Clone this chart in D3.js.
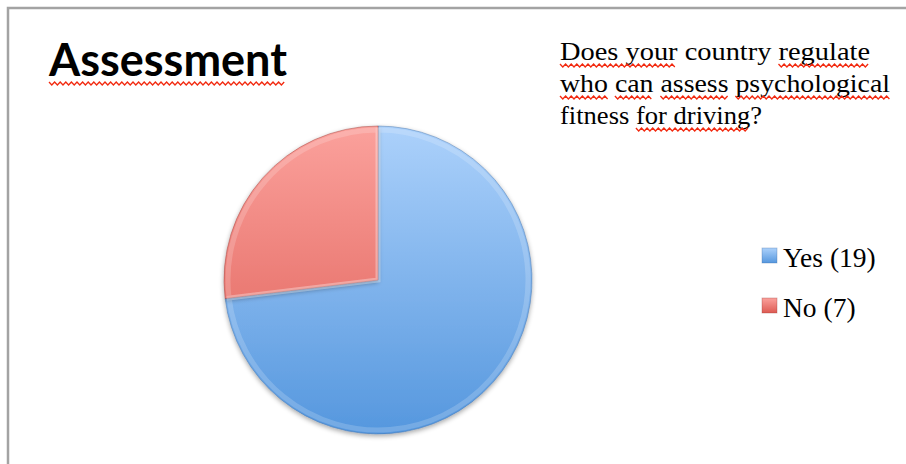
<!DOCTYPE html>
<html>
<head>
<meta charset="utf-8">
<script src="https://cdn.jsdelivr.net/npm/d3@7"></script>
<style>
  html, body { margin: 0; padding: 0; background: #fff; }
  svg { display: block; }
</style>
</head>
<body>
<svg id="chart"></svg>
<script>
const categories = ['Yes', 'No'];
const counts = [19, 7];
const legendLabels = ['Yes (19)', 'No (7)'];
const titleText = 'Assessment';
const questionLines = ['Does your country regulate', 'who can assess psychological', 'fitness for driving?'];

const width = 906, height = 464;
const svg = d3.select('#chart').attr('width', width).attr('height', height);
const defs = svg.append('defs');

const palette = {
  Yes: { top: '#acd1fb', bottom: '#5597de', edge: '#3f6fa8' },
  No:  { top: '#fba19c', bottom: '#dd5a52', edge: '#9a3c37' }
};

// frame
svg.append('path')
    .attr('d', `M8,${height} L8,8 L${width},8`)
    .attr('fill', 'none')
    .attr('stroke', '#a3a3a3')
    .attr('stroke-width', 2.5);

// pie
const cx = 378, cy = 280, r = 154;

const pie = d3.pie().sort(null).value(d => d.value);
const arc = d3.arc().innerRadius(0).outerRadius(r);
const data = categories.map((c, i) => ({ key: c, value: counts[i] }));

categories.forEach(c => {
  // gradient in the pie group's own coordinates
  const g = defs.append('linearGradient')
      .attr('id', 'grad-' + c)
      .attr('gradientUnits', 'userSpaceOnUse')
      .attr('x1', 0).attr('y1', -r)
      .attr('x2', 0).attr('y2', r);
  g.append('stop').attr('offset', 0).attr('stop-color', palette[c].top);
  g.append('stop').attr('offset', 1).attr('stop-color', palette[c].bottom);

  const lg = defs.append('linearGradient')
      .attr('id', 'lgrad-' + c)
      .attr('x1', 0).attr('y1', 0).attr('x2', 0).attr('y2', 1);
  lg.append('stop').attr('offset', 0).attr('stop-color', palette[c].top);
  lg.append('stop').attr('offset', 1).attr('stop-color', palette[c].bottom);
});

const shadow = defs.append('filter').attr('id', 'shadow')
    .attr('x', '-10%').attr('y', '-10%').attr('width', '120%').attr('height', '120%');
shadow.append('feGaussianBlur').attr('in', 'SourceAlpha').attr('stdDeviation', 2.5);
shadow.append('feOffset').attr('dx', 0).attr('dy', 1.5).attr('result', 'blur');
shadow.append('feComponentTransfer').append('feFuncA').attr('type', 'linear').attr('slope', 0.35);
const merge = shadow.append('feMerge');
merge.append('feMergeNode');
merge.append('feMergeNode').attr('in', 'SourceGraphic');

const pieG = svg.append('g').attr('transform', `translate(${cx},${cy})`);

pieG.selectAll('path.slice')
    .data(pie(data))
  .join('path')
    .attr('class', 'slice')
    .attr('d', arc)
    .attr('fill', d => `url(#grad-${d.data.key})`)
    .attr('filter', 'url(#shadow)')
    .attr('stroke', d => palette[d.data.key].edge)
    .attr('stroke-opacity', 0.45)
    .attr('stroke-width', 1);

// soft bevel highlight inside each slice
const innerArc = d3.arc().innerRadius(0).outerRadius(r - 4);
pieG.selectAll('path.bevel')
    .data(pie(data))
  .join('path')
    .attr('class', 'bevel')
    .attr('d', innerArc)
    .attr('fill', 'none')
    .attr('stroke', '#fff')
    .attr('stroke-opacity', 0.18)
    .attr('stroke-width', 5);

// title
const title = svg.append('text')
    .attr('x', 49).attr('y', 76)
    .attr('font-family', 'Lato, "Open Sans", sans-serif')
    .attr('font-weight', 700)
    .attr('font-size', 45)
    .attr('fill', '#000')
    .text(titleText);

// question
const qFont = '"Liberation Serif", "DejaVu Serif", serif';
const question = svg.append('g');
const qLines = question.selectAll('text')
    .data(questionLines)
  .join('text')
    .attr('x', 560)
    .attr('y', (d, i) => 60 + i * 32)
    .attr('font-family', qFont)
    .attr('font-size', 26)
    .attr('fill', '#000')
    .attr('textLength', (d, i) => [310, 330, 202][i])
    .attr('lengthAdjust', 'spacingAndGlyphs')
    .text(d => d);

// legend
const legend = svg.append('g').attr('transform', 'translate(762,248)');
const items = legend.selectAll('g')
    .data(categories)
  .join('g')
    .attr('transform', (d, i) => `translate(0,${i * 50})`);
items.append('rect')
    .attr('width', 15).attr('height', 15)
    .attr('fill', d => `url(#lgrad-${d})`)
    .attr('stroke', d => palette[d].edge)
    .attr('stroke-opacity', 0.4)
    .attr('stroke-width', 0.8);
items.append('text')
    .attr('x', 21).attr('y', 19)
    .attr('font-family', qFont)
    .attr('font-size', 27.5)
    .attr('fill', '#000')
    .text((d, i) => legendLabels[i]);

// spell-check squiggles
function squiggle(x1, x2, y) {
  const step = 2.8, amp = 3;
  let p = `M${x1.toFixed(1)},${y}`;
  let up = true;
  for (let x = x1 + step; x <= x2; x += step) {
    p += ` L${x.toFixed(1)},${(up ? y + amp : y).toFixed(1)}`;
    up = !up;
  }
  return p;
}
const squig = svg.append('g')
    .attr('fill', 'none')
    .attr('stroke', '#f2290f')
    .attr('stroke-width', 1.3);

const tb = title.node().getBBox();
squig.append('path').attr('d', squiggle(tb.x + 1, tb.x + tb.width - 1, 82));

// words flagged in the question, by line: [start char, end char]
const flagged = [
  [[0, 9], [18, 26]],
  [[0, 3], [4, 7], [8, 14], [15, 28]],
  [[8, 19]]
];
qLines.each(function(d, i) {
  const node = this;
  const y = 60 + i * 32 + 4;
  flagged[i].forEach(([s, e]) => {
    const a = node.getStartPositionOfChar(s).x;
    const b = node.getEndPositionOfChar(e - 1).x;
    squig.append('path').attr('d', squiggle(a, b, y));
  });
});
</script>
</body>
</html>
